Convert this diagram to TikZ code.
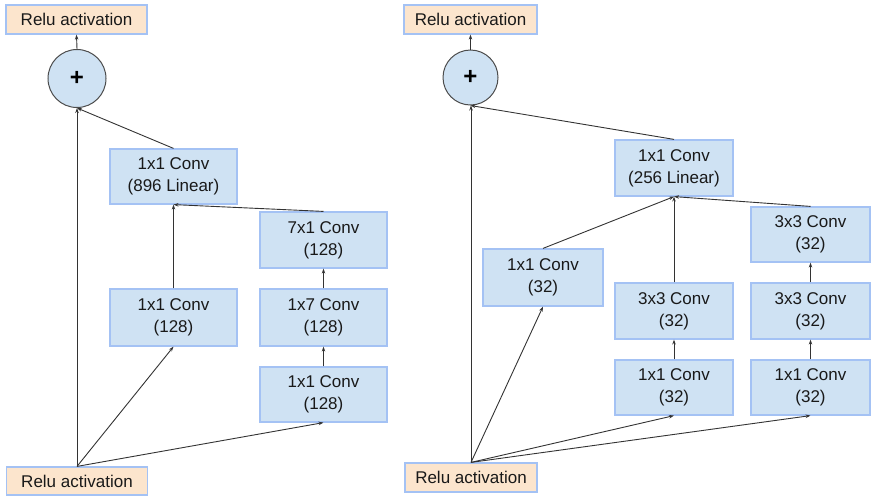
\documentclass[tikz,border=0pt]{standalone}
\usepackage{fontspec}
\setmainfont{Liberation Sans}
\usetikzlibrary{arrows.meta}
\definecolor{boxfill}{HTML}{CFE2F3}
\definecolor{boxline}{HTML}{A4C2F4}
\definecolor{relufill}{HTML}{FCE5CD}
\definecolor{edgecol}{HTML}{333333}
\tikzset{
  convbox/.style={draw=boxline, line width=1.2pt, fill=boxfill, inner sep=0pt, align=center,
    font=\fontsize{17}{22}\selectfont, text=black!90},
  relubox/.style={draw=boxline, line width=1.2pt, fill=relufill, inner sep=0pt, align=center,
    font=\fontsize{17}{22}\selectfont, text=black!90},
  addnode/.style={circle, draw=black!70, line width=1pt, fill=boxfill, inner sep=0pt,
    font=\fontsize{24}{24}\selectfont\bfseries},
  conn/.style={draw=edgecol, line width=0.9pt, -{Stealth[length=5pt,width=3.5pt]}}
}
\begin{document}
\begin{tikzpicture}[x=1pt,y=-1pt]
\useasboundingbox (0,0) rectangle (878,499);
% ---------- left diagram ----------
\node[relubox, minimum width=141pt, minimum height=29pt] (lrt) at (76.5,19.5) {Relu activation};
\node[addnode, minimum size=58pt] (lplus) at (77,78.5) {+};
\node[convbox, minimum width=127pt, minimum height=55pt] (llin) at (173.5,176.5) {1x1 Conv\\(896 Linear)};
\node[convbox, minimum width=127pt, minimum height=56pt] (l71) at (323.5,240) {7x1 Conv\\(128)};
\node[convbox, minimum width=127pt, minimum height=57pt] (l11a) at (173.5,317.5) {1x1 Conv\\(128)};
\node[convbox, minimum width=127pt, minimum height=57pt] (l17) at (323.5,317.5) {1x7 Conv\\(128)};
\node[convbox, minimum width=127pt, minimum height=55pt] (l11b) at (323.5,394.5) {1x1 Conv\\(128)};
\node[relubox, minimum width=141pt, minimum height=28pt] (lrb) at (77,481) {Relu activation};
\draw[conn] (lrb.north) -- (lplus.south);
\draw[conn] (lrb.north) -- (l11a.south);
\draw[conn] (lrb.north) -- (l11b.south);
\draw[conn] (l11b.north) -- (l17.south);
\draw[conn] (l17.north) -- (l71.south);
\draw[conn] (l11a.north) -- (llin.south);
\draw[conn] (l71.north) -- (llin.south);
\draw[conn] (llin.north) -- (lplus.south);
\draw[conn] (lplus.north) -- (lrt.south);
% ---------- right diagram ----------
\node[relubox, minimum width=133pt, minimum height=29pt] (rrt) at (470.5,19.5) {Relu activation};
\node[addnode, minimum size=55pt] (rplus) at (470.5,77.5) {+};
\node[convbox, minimum width=118pt, minimum height=56pt] (rlin) at (674,168) {1x1 Conv\\(256 Linear)};
\node[convbox, minimum width=119pt, minimum height=55pt] (r33t) at (810.5,234.5) {3x3 Conv\\(32)};
\node[convbox, minimum width=120pt, minimum height=57pt] (r11a) at (543,277.5) {1x1 Conv\\(32)};
\node[convbox, minimum width=118pt, minimum height=56pt] (r33m) at (674,311) {3x3 Conv\\(32)};
\node[convbox, minimum width=119pt, minimum height=56pt] (r33r) at (810.5,311) {3x3 Conv\\(32)};
\node[convbox, minimum width=118pt, minimum height=55pt] (r11m) at (674,387.5) {1x1 Conv\\(32)};
\node[convbox, minimum width=119pt, minimum height=55pt] (r11r) at (810.5,387.5) {1x1 Conv\\(32)};
\node[relubox, minimum width=132pt, minimum height=29pt] (rrb) at (471,477.5) {Relu activation};
\draw[conn] (rrb.north) -- (rplus.south -| rrb.north);
\draw[conn] (rrb.north) -- (r11a.south);
\draw[conn] (rrb.north) -- (r11m.south);
\draw[conn] (rrb.north) -- (r11r.south);
\draw[conn] (r11m.north) -- (r33m.south);
\draw[conn] (r11r.north) -- (r33r.south);
\draw[conn] (r33r.north) -- (r33t.south);
\draw[conn] (r11a.north) -- (rlin.south);
\draw[conn] (r33m.north) -- (rlin.south);
\draw[conn] (r33t.north) -- (rlin.south);
\draw[conn] (rlin.north) -- (rplus.south);
\draw[conn] (rplus.north) -- (rrt.south);
\end{tikzpicture}
\end{document}
